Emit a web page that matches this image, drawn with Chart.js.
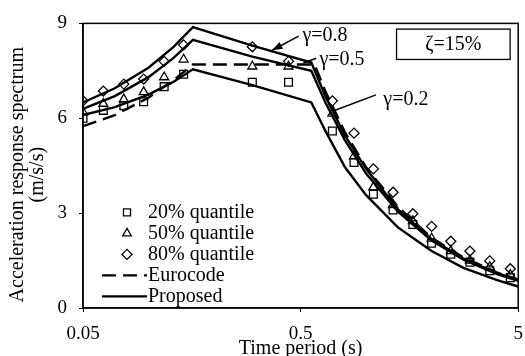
<!DOCTYPE html>
<html>
<head>
<meta charset="utf-8">
<script src="https://cdn.jsdelivr.net/npm/chart.js@4.4.1/dist/chart.umd.min.js"></script>
<style>
  html, body { margin: 0; padding: 0; background: #fff; }
  #wrap { width: 525px; height: 356px; }
</style>
</head>
<body>
<div id="wrap"><canvas id="chart_0" width="525" height="356"></canvas></div>
<script>
// Proposed spectra (gamma = 0.8 / 0.5 / 0.2)
const curvePeriods = [0.05, 0.07, 0.1, 0.13, 0.16, 0.3, 0.56, 0.65, 0.8, 1, 1.4, 2, 2.8, 4, 5];
const proposed08 = [6.5, 6.95, 7.6, 8.25, 8.88, 8.3, 7.76, 6.7, 5.45, 4.4, 3.12, 2.18, 1.56, 1.1, 0.9];
const proposed05 = [6.3, 6.7, 7.3, 7.9, 8.48, 7.95, 7.5, 6.5, 5.3, 4.25, 3.05, 2.13, 1.53, 1.07, 0.86];
const proposed02 = [6.1, 6.35, 6.75, 7.15, 7.55, 7.05, 6.5, 5.6, 4.45, 3.57, 2.55, 1.8, 1.27, 0.88, 0.68];

// Eurocode spectrum
const euroPeriods = [0.05, 0.07, 0.1, 0.13, 0.16, 0.58, 0.65, 0.8, 1, 1.4, 2, 2.8, 4, 5];
const eurocode = [5.75, 6.1, 6.65, 7.2, 7.7, 7.7, 6.85, 5.55, 4.45, 3.2, 2.22, 1.6, 1.12, 0.9];

// Quantiles of the simulated records
const markerPeriods = [0.05, 0.062, 0.077, 0.095, 0.118, 0.145, 0.3, 0.44, 0.7, 0.88, 1.08, 1.33, 1.64, 2.0, 2.45, 3.0, 3.7, 4.6];
const q20 = [6.0, 6.25, 6.4, 6.52, 7.0, 7.39, 7.14, 7.14, 5.6, 4.6, 3.6, 3.1, 2.64, 2.05, 1.7, 1.45, 1.18, 0.96];
const q50 = [6.2, 6.46, 6.6, 6.83, 7.3, 7.86, 7.64, 7.64, 6.15, 4.8, 3.82, 3.26, 2.75, 2.2, 1.8, 1.5, 1.3, 1.05];
const q80 = [6.55, 6.86, 7.08, 7.24, 7.8, 8.32, 8.26, 7.8, 6.55, 5.53, 4.4, 3.66, 2.98, 2.58, 2.11, 1.8, 1.49, 1.24];

const xTicks = [0.05, 0.5, 5];
const yTicks = [0, 3, 6, 9];
const yTitle = ['Acceleration response spectrum', '(m/s/s)'];

// Curve labels: text position and pointer line, in data units
const curveLabels = [
    { text: 'γ=0.8', x: 0.51, y: 8.62, from: [0.49, 8.6], to: [0.37, 8.15], arrow: true },
    { text: 'γ=0.5', x: 0.61, y: 7.86, from: [0.59, 7.9], to: [0.515, 7.75], arrow: false },
    { text: 'γ=0.2', x: 1.2, y: 6.6, from: [1.11, 6.74], to: [0.71, 6.24], arrow: false }
];
const dampingBox = { text: 'ζ=15%', x0: 1.38, x1: 4.59, y0: 7.86, y1: 8.82 };

const FONT = "'Liberation Serif', 'Times New Roman', serif";

function toPoints(xs, ys) {
    return xs.map((x, i) => ({ x: x, y: ys[i] }));
}

function lineSet(label, xs, ys, dash) {
    return {
        label: label,
        data: toPoints(xs, ys),
        showLine: true,
        borderColor: '#000',
        borderWidth: 2.4,
        borderDash: dash || [],
        pointRadius: 0,
        fill: false
    };
}

function markerSet(label, ys, style, radius) {
    return {
        label: label,
        data: toPoints(markerPeriods, ys),
        showLine: false,
        pointStyle: style,
        pointRadius: radius,
        pointBorderWidth: 1.3,
        pointBorderColor: '#000',
        pointBackgroundColor: 'rgba(255,255,255,0)'
    };
}

// frame, y title, curve labels, damping box and legend
const decorations = {
    id: 'decorations',
    afterDraw(chart) {
        const ctx = chart.ctx;
        const a = chart.chartArea;
        const xs = chart.scales.x, ys = chart.scales.y;
        const px = v => xs.getPixelForValue(v);
        const py = v => ys.getPixelForValue(v);

        ctx.save();
        ctx.strokeStyle = '#000';
        ctx.lineWidth = 1.5;
        ctx.strokeRect(a.left, a.top, a.right - a.left, a.bottom - a.top);

        ctx.font = '20px ' + FONT;
        ctx.fillStyle = '#000';
        ctx.textBaseline = 'middle';

        // y axis title, two rotated lines
        ctx.save();
        ctx.translate(18, (a.top + a.bottom) / 2 + 9);
        ctx.rotate(-Math.PI / 2);
        ctx.textAlign = 'center';
        yTitle.forEach((t, i) => ctx.fillText(t, 0, i * 20));
        ctx.restore();

        ctx.textAlign = 'left';
        curveLabels.forEach(l => {
            const x1 = px(l.from[0]), y1 = py(l.from[1]);
            const x2 = px(l.to[0]), y2 = py(l.to[1]);
            ctx.lineWidth = 1.5;
            ctx.beginPath();
            ctx.moveTo(x1, y1);
            ctx.lineTo(x2, y2);
            ctx.stroke();
            if (l.arrow) {
                const ang = Math.atan2(y2 - y1, x2 - x1);
                ctx.beginPath();
                ctx.moveTo(x2, y2);
                ctx.lineTo(x2 - 11 * Math.cos(ang - 0.35), y2 - 11 * Math.sin(ang - 0.35));
                ctx.lineTo(x2 - 11 * Math.cos(ang + 0.35), y2 - 11 * Math.sin(ang + 0.35));
                ctx.closePath();
                ctx.fill();
            }
            ctx.fillText(l.text, px(l.x), py(l.y));
        });

        const bx0 = px(dampingBox.x0), bx1 = px(dampingBox.x1);
        const by0 = py(dampingBox.y1), by1 = py(dampingBox.y0);
        ctx.lineWidth = 1.3;
        ctx.strokeRect(bx0, by0, bx1 - bx0, by1 - by0);
        ctx.textAlign = 'center';
        ctx.fillText(dampingBox.text, (bx0 + bx1) / 2, (by0 + by1) / 2);

        // legend, lower left of the plot
        const rows = [
            { text: '20% quantile', style: 'rect', r: 5 },
            { text: '50% quantile', style: 'triangle', r: 5 },
            { text: '80% quantile', style: 'rectRot', r: 5 },
            { text: 'Eurocode', dash: [14, 7] },
            { text: 'Proposed', dash: [] }
        ];
        const textX = a.left + 65;
        let rowY = a.top + 189;
        ctx.textAlign = 'left';
        rows.forEach(row => {
            if (row.style) {
                ctx.save();
                ctx.fillStyle = 'rgba(255,255,255,0)';
                ctx.lineWidth = 1.3;
                Chart.helpers.drawPoint(ctx, { pointStyle: row.style, radius: row.r, borderWidth: 1.3 }, a.left + 44, rowY);
                ctx.restore();
            } else {
                ctx.lineWidth = 2.4;
                ctx.setLineDash(row.dash);
                ctx.beginPath();
                ctx.moveTo(a.left + 19, rowY);
                ctx.lineTo(textX - 1, rowY);
                ctx.stroke();
                ctx.setLineDash([]);
            }
            ctx.fillText(row.text, textX, rowY);
            rowY += 21;
        });
        ctx.restore();
    }
};

function createChart0() {
    const ctx = document.getElementById('chart_0');
    if (!ctx) {
        console.error('Canvas element with id "chart_0" not found');
        return;
    }

    new Chart(ctx.getContext('2d'), {
        type: 'scatter',
        data: {
            datasets: [
                markerSet('20% quantile', q20, 'rect', 5.5),
                markerSet('50% quantile', q50, 'triangle', 5.2),
                markerSet('80% quantile', q80, 'rectRot', 5),
                lineSet('Eurocode', euroPeriods, eurocode, [14, 7]),
                lineSet('Proposed γ=0.8', curvePeriods, proposed08),
                lineSet('Proposed γ=0.5', curvePeriods, proposed05),
                lineSet('Proposed γ=0.2', curvePeriods, proposed02)
            ]
        },
        options: {
            responsive: false,
            animation: false,
            layout: { padding: { top: 18, right: 5, left: 0, bottom: 0 } },
            plugins: {
                legend: { display: false },
                tooltip: { enabled: false }
            },
            scales: {
                x: {
                    type: 'logarithmic',
                    min: 0.05,
                    max: 5,
                    afterBuildTicks: scale => { scale.ticks = xTicks.map(v => ({ value: v })); },
                    afterFit: scale => {
                        scale.height = 48;
                        scale.paddingRight = 0;
                    },
                    grid: { drawOnChartArea: false, tickLength: 4, color: '#000' },
                    border: { color: '#000', width: 1.5 },
                    ticks: {
                        color: '#000',
                        padding: 11,
                        maxRotation: 0,
                        font: { family: FONT, size: 19 },
                        callback: v => String(v)
                    },
                    title: {
                        display: true,
                        text: 'Time period (s)',
                        color: '#000',
                        font: { family: FONT, size: 20, lineHeight: 0.7 },
                        padding: { top: 0, bottom: 0 }
                    }
                },
                y: {
                    min: 0,
                    max: 9,
                    afterBuildTicks: scale => { scale.ticks = yTicks.map(v => ({ value: v })); },
                    afterFit: scale => { scale.width = 83; },
                    grid: { drawOnChartArea: false, tickLength: 4, color: '#000' },
                    border: { color: '#000', width: 1.5 },
                    ticks: {
                        color: '#000',
                        padding: 12,
                        font: { family: FONT, size: 19 }
                    },
                    title: { display: false }
                }
            }
        },
        plugins: [decorations]
    });
}

createChart0();
</script>
</body>
</html>
